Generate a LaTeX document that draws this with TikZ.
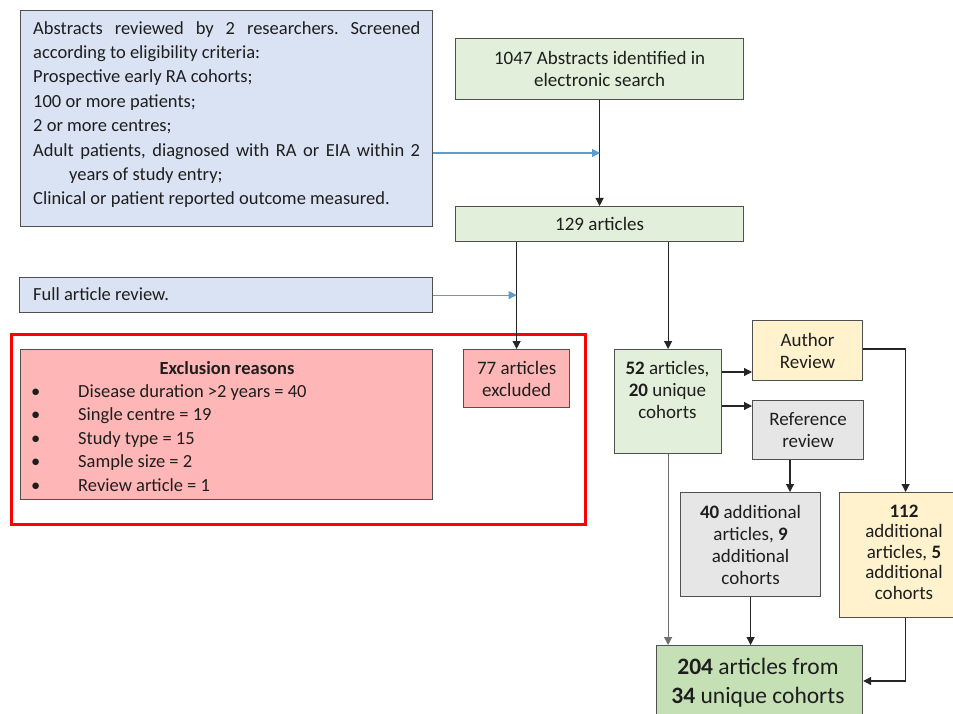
\documentclass[tikz,border=0pt]{standalone}
\usepackage{fontspec}
\setmainfont{Carlito}
\usetikzlibrary{arrows.meta}
\definecolor{bluef}{HTML}{DAE3F3}
\definecolor{greenf}{HTML}{E2EFDA}
\definecolor{greend}{HTML}{C5E0B4}
\definecolor{pinkf}{HTML}{FFB6B6}
\definecolor{yellowf}{HTML}{FFF2CC}
\definecolor{grayf}{HTML}{E7E6E6}
\definecolor{boxline}{HTML}{505050}
\definecolor{txt}{HTML}{1E1E1E}
\definecolor{bluearrow}{HTML}{5B9BD5}
\definecolor{lightline}{HTML}{707070}
\frenchspacing
\begin{document}
\begin{tikzpicture}[x=1pt,y=-1pt,
  box/.style={draw=boxline, line width=1.2pt, inner sep=0pt, anchor=north west,
    align=center, text=txt, font=\fontsize{19}{22}\selectfont},
  txtnode/.style={inner sep=0pt, align=center, text=txt, font=\fontsize{19}{22}\selectfont},
  arr/.style={draw=black!85, line width=1.1pt, -{Triangle[length=8pt,width=8pt]}},
  garr/.style={draw=lightline, line width=1.1pt, -{Triangle[length=8pt,width=8pt]}},
  barr/.style={draw=bluearrow, line width=1.1pt, -{Triangle[length=8pt,width=8pt]}}]
\useasboundingbox (0,0) rectangle (953,714);
\clip (0,0) rectangle (953,714);
\fill[white] (0,0) rectangle (953,714);

% left column
\node[box, fill=bluef, minimum width=412, minimum height=216] (crit) at (20,10) {};
\node[anchor=north west, inner sep=0pt, text width=387, align=justify, text=txt,
  font=\fontsize{18.5}{24.4}\selectfont] (crittext) at (33,21)
  {Abstracts reviewed by 2 researchers. Screened\linebreak according to eligibility criteria:\par
   Prospective early RA cohorts;\par
   100 or more patients;\par
   2 or more centres;\par
   \hangindent=36pt\hangafter=1 Adult patients, diagnosed with RA or EIA within 2\linebreak years of study entry;\par
   Clinical or patient reported outcome measured.};

\node[box, fill=bluef, minimum width=413, minimum height=35] (full) at (19,277) {};
\node[anchor=west, inner sep=0pt, text=txt, font=\fontsize{18.5}{22}\selectfont] (fulltext) at (33,294.5) {Full article review.};

\node[draw=red, line width=3pt, minimum width=574, minimum height=190, anchor=north west, inner sep=0pt] (redframe) at (10,333) {};
\node[box, fill=pinkf, minimum width=412, minimum height=150] (excl) at (20,349) {};
\node[anchor=center, inner sep=0pt, text=txt, font=\fontsize{18.5}{22}\selectfont\bfseries] (excltitle) at (227,368) {Exclusion reasons};
\node[anchor=west, inner sep=0pt, align=left, text=txt, font=\fontsize{18.5}{23.5}\selectfont] (excllist) at (31,438)
  {\makebox[47pt][l]{\textbullet}Disease duration >2 years = 40\\
   \makebox[47pt][l]{\textbullet}Single centre = 19\\
   \makebox[47pt][l]{\textbullet}Study type = 15\\
   \makebox[47pt][l]{\textbullet}Sample size = 2\\
   \makebox[47pt][l]{\textbullet}Review article = 1};
\node[box, fill=pinkf, minimum width=106, minimum height=58] (ex77) at (463,349) {77 articles\\excluded};

% main column
\node[box, fill=greenf, minimum width=288, minimum height=61] (a1047) at (455,38) {1047 Abstracts identified in\\electronic search};
\node[box, fill=greenf, minimum width=288, minimum height=35] (a129) at (455,206) {129 articles};
\node[box, fill=greenf, minimum width=107, minimum height=104] (a52) at (614,349) {};
\node[txtnode] (a52text) at (667.5,390) {\textbf{52} articles,\\\textbf{20} unique\\cohorts};
\node[box, fill=yellowf, minimum width=110, minimum height=60] (auth) at (752,320) {Author\\Review};
\node[box, fill=grayf, minimum width=111, minimum height=59] (refr) at (752,400) {Reference\\review};
\node[box, fill=grayf, minimum width=140, minimum height=104] (a40) at (680,492) {\textbf{40} additional\\articles, \textbf{9}\\additional\\cohorts};
\node[box, fill=yellowf, minimum width=132, minimum height=125] (a112) at (839,492) {};
\node[txtnode, font=\fontsize{19}{20.5}\selectfont] (a112text) at (904,552) {\textbf{112}\\additional\\articles, \textbf{5}\\additional\\cohorts};
\node[box, fill=greend, minimum width=206, minimum height=90] (a204) at (656,645) {};
\node[anchor=north, inner sep=0pt, align=center, text=txt, font=\fontsize{23.5}{29}\selectfont] (a204text) at (758,658) {\textbf{204} articles from\\\textbf{34} unique cohorts};

% coordinates
\coordinate (j1) at (600,153);
\coordinate (r1) at (0,372);
\coordinate (r2) at (0,406);
\coordinate (au) at (0,349);
\coordinate (rx) at (790,0);
\coordinate (by) at (0,681);

% connectors
\draw[arr] (a1047.south) -- (a129.north);
\draw[barr] (crit.east |- j1) -- (j1);
\draw[arr] (ex77.north |- a129.south) -- (ex77.north);
\draw[barr] (full.east) -- (full.east -| ex77.north);
\draw[arr] (a52.north |- a129.south) -- (a52.north);
\draw[arr] (a52.east |- r1) -- (auth.west |- r1);
\draw[arr] (a52.east |- r2) -- (refr.west |- r2);
\draw[arr] (auth.east |- au) -| (a112.north);
\draw[arr] (refr.south -| rx) -- (a40.north -| rx);
\draw[garr] (a52.south) -- (a52.south |- a204.north);
\draw[arr] (a40.south) -- (a40.south |- a204.north);
\draw[arr] (a112.south) |- (a204.east |- by);
\end{tikzpicture}
\end{document}
